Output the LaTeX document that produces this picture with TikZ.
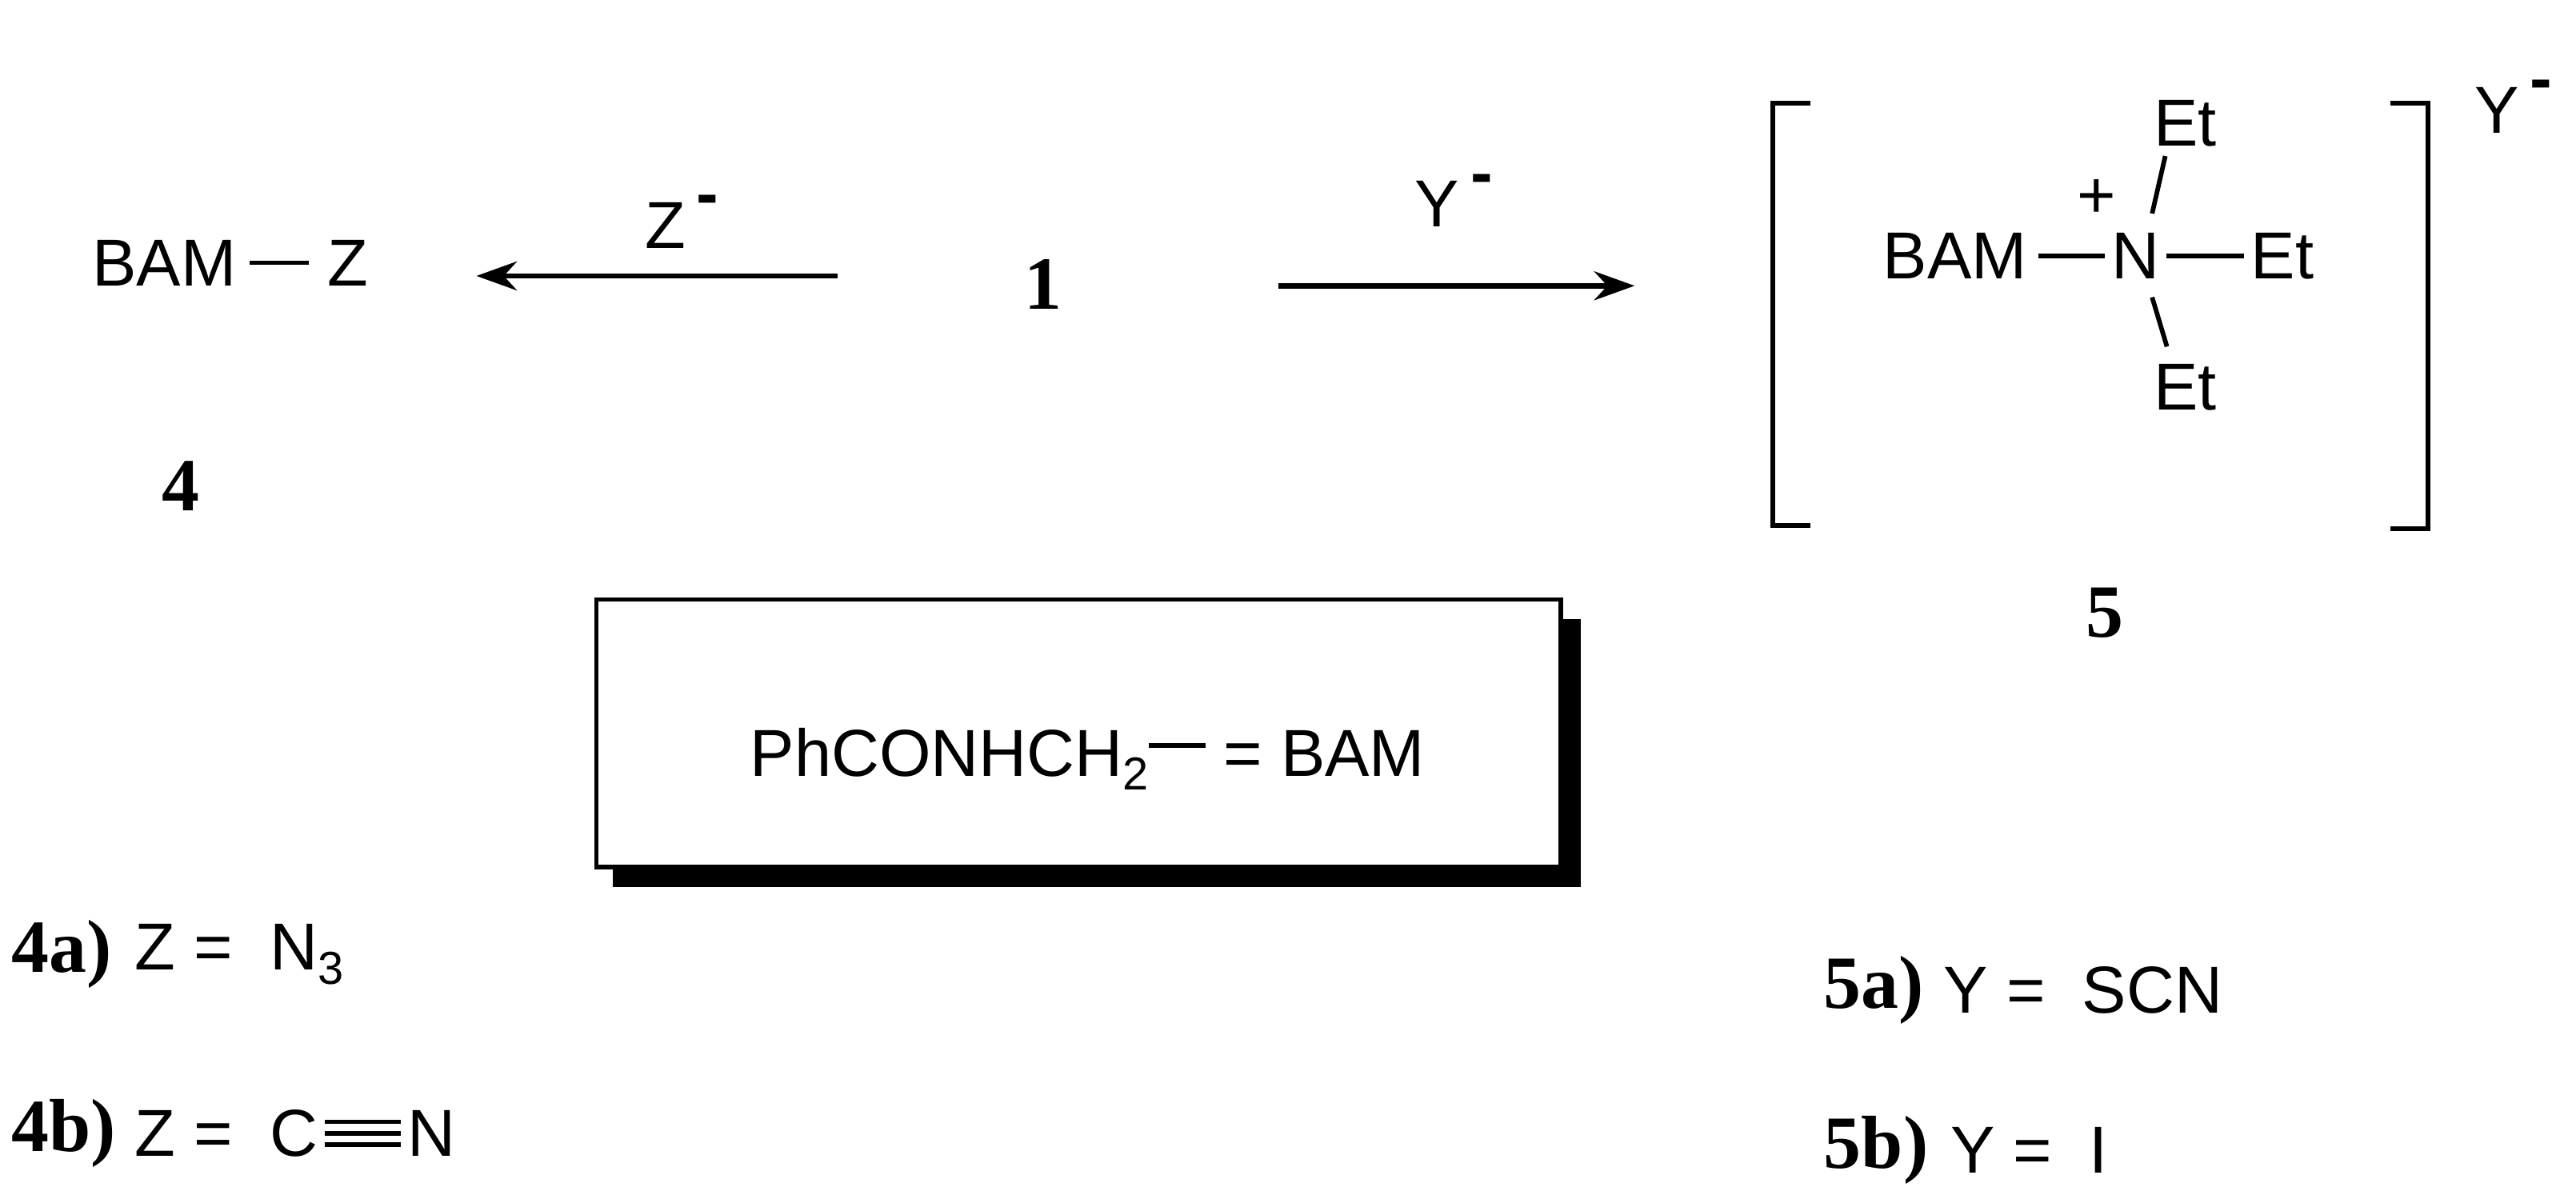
\documentclass[tikz,border=0pt]{standalone}
\usepackage{fontspec}
\setmainfont{Liberation Sans}
\newfontfamily\labfont{Liberation Serif}
\usetikzlibrary{positioning,arrows.meta}
\newcommand{\anion}[1]{#1\,\raisebox{0.9ex}{\bfseries -}}
\tikzset{
  chem/.style={inner sep=1pt,font=\fontsize{11.5}{13}\selectfont},
  lab/.style={inner sep=1pt,font=\fontsize{13}{15}\selectfont\labfont\bfseries},
  bond/.style={line width=0.8pt},
  rxn/.style={line width=0.9pt,-{Stealth[length=7pt,width=5pt]}},
}
\begin{document}
\begin{tikzpicture}[x=0.01cm,y=-0.01cm]
    \useasboundingbox (0,0) rectangle (1568,725);

    % left product
    \node[chem,anchor=west] (bamA) at (52,160) {BAM};
    \node[chem,anchor=west] (zA) at (195,160) {Z};
    \draw[bond] (bamA.east) ++(4,0) -- ([xshift=-2pt]zA.west);
    \node[lab] (four) at (110,296) {4};

    % arrows
    \node[lab] (one) at (635,173) {1};
    \coordinate (lt) at (510,168);
    \coordinate (lh) at (290,168);
    \draw[rxn] (lt) -- (lh);
    \node[chem] (zm) at (415,135) {\anion{Z}};
    \coordinate (rt) at (778,174);
    \coordinate (rh) at (995,174);
    \draw[rxn] (rt) -- (rh);
    \node[chem] (ym) at (885,122) {\anion{Y}};

    % brackets
    \draw[bond] (1102,63) -- (1079,63) -- (1079,320) -- (1102,320);
    \draw[bond] (1455,63) -- (1478,63) -- (1478,322) -- (1455,322);
    \node[chem] (yb) at (1530,65) {\anion{Y}};

    % ammonium
    \node[chem] (nq) at (1300,156) {N};
    \node[chem,anchor=east] (bamB) at (1238,156) {BAM};
    \node[chem,anchor=west] (etR) at (1366,156) {Et};
    \node[chem] (etT) at (1330,75) {Et};
    \node[chem] (etB) at (1330,236) {Et};
    \node[chem] (plus) at (1276,121) {+};
    \draw[bond] (1241,156) -- (nq.west);
    \draw[bond] (nq.east) -- (etR.west);
    \draw[bond] (1318,95) -- (1310,130);
    \draw[bond] (1310,181) -- (1319,211);
    \node[lab] (five) at (1281,373) {5};

    % box
    \fill (373,377) rectangle (962,540);
    \draw[bond,fill=white] (363,365) rectangle (950,528);
    \node[chem] (bamdef) at (662,462) {PhCONHCH\raisebox{-0.4ex}{\fontsize{8}{9}\selectfont 2}\raisebox{0.8ex}{\rule{0.85em}{0.8pt}}\ = BAM};

    % Z list
    \node[lab,anchor=west] (fa) at (3,581) {4a)};
    \node[chem,anchor=west] (fat) at (78,581) {Z =\ \ N\raisebox{-0.4ex}{\fontsize{8}{9}\selectfont 3}};
    \node[lab,anchor=west] (fb) at (3,690) {4b)};
    \node[chem,anchor=west] (fbt) at (78,690) {Z =};
    \node[chem,anchor=west] (cc) at (160,690) {C};
    \node[chem,anchor=west] (nn) at (244,690) {N};
    \foreach \dy in {-7,0,7}
        \draw[bond] ([yshift=\dy*0.01cm]cc.east) -- ([yshift=\dy*0.01cm]nn.west);

    % Y list
    \node[lab,anchor=west] (sa) at (1106,603) {5a)};
    \node[chem,anchor=west] (sat) at (1179,603) {Y =\ \ SCN};
    \node[lab,anchor=west] (sb) at (1106,700) {5b)};
    \node[chem,anchor=west] (sbt) at (1183,700) {Y =\ \ I};
\end{tikzpicture}
\end{document}
